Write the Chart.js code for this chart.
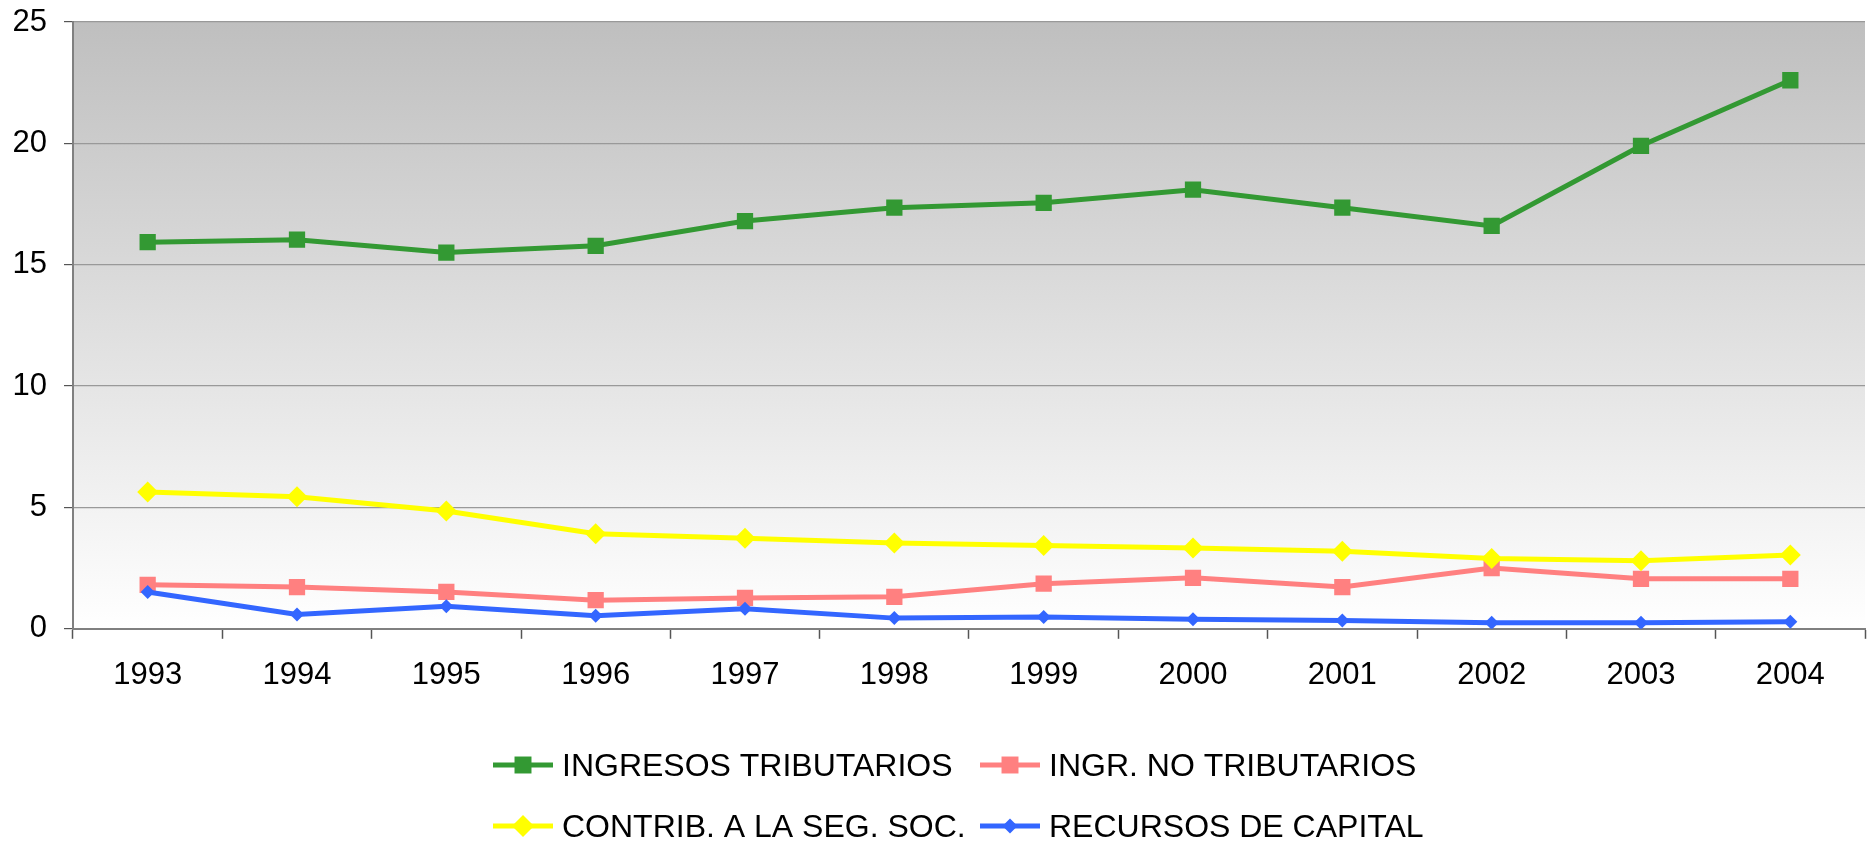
<!DOCTYPE html>
<html>
<head>
<meta charset="utf-8">
<script src="https://cdn.jsdelivr.net/npm/chart.js@4"></script>
<style>
  body { margin: 0; background: #fff; }
  #wrap { width: 1869px; height: 845px; }
</style>
</head>
<body>
<div id="wrap"><canvas id="chart" width="1869" height="845"></canvas></div>
<script>
// data
const years = ["1993", "1994", "1995", "1996", "1997", "1998", "1999", "2000", "2001", "2002", "2003", "2004"];
const ingresosTributarios = [15.93, 16.03, 15.5, 15.78, 16.8, 17.35, 17.55, 18.09, 17.35, 16.6, 19.9, 22.6];
const ingrNoTributarios = [1.81, 1.72, 1.52, 1.18, 1.27, 1.32, 1.86, 2.1, 1.72, 2.5, 2.06, 2.06];
const contribSegSoc = [5.64, 5.44, 4.85, 3.92, 3.73, 3.53, 3.43, 3.33, 3.19, 2.9, 2.8, 3.04];
const recursosCapital = [1.52, 0.59, 0.93, 0.54, 0.83, 0.44, 0.49, 0.39, 0.34, 0.25, 0.25, 0.29];
const yTicks = [0, 5, 10, 15, 20, 25];

const FONT = "'Liberation Sans', Arial, sans-serif";

// gray-to-white fill behind the plot
const plotBackground = {
    id: "plotBackground",
    beforeDraw(chart) {
        let { ctx, chartArea: a } = chart;
        let g = ctx.createLinearGradient(0, a.top, 0, a.bottom);
        g.addColorStop(0, "#bfbfbf");
        g.addColorStop(1, "#ffffff");
        ctx.save();
        ctx.fillStyle = g;
        ctx.fillRect(a.left, a.top, a.right - a.left, a.bottom - a.top);
        ctx.restore();
    }
};

// two-column legend under the chart
const gridLegend = {
    id: "gridLegend",
    afterDraw(chart) {
        let ctx = chart.ctx;
        let cols = [493, 980];
        let rows = [765, 826];
        ctx.save();
        ctx.font = "32px " + FONT;
        ctx.textBaseline = "middle";
        chart.data.datasets.forEach((ds, i) => {
            let x = cols[i % 2], y = rows[Math.floor(i / 2)];
            ctx.strokeStyle = ds.borderColor;
            ctx.lineWidth = 5;
            ctx.beginPath();
            ctx.moveTo(x, y);
            ctx.lineTo(x + 60, y);
            ctx.stroke();
            ctx.fillStyle = ds.pointBackgroundColor;
            ctx.strokeStyle = ds.pointBackgroundColor;
            Chart.helpers.drawPoint(ctx, {
                pointStyle: ds.pointStyle,
                radius: ds.legendRadius,
                rotation: 0,
                borderWidth: 0
            }, x + 30, y);
            ctx.fillStyle = "#000";
            ctx.fillText(ds.label, x + 69, y + 2);
        });
        ctx.restore();
    }
};

function series(label, values, color, style, radius, legendRadius, order) {
    return {
        label: label,
        data: values,
        borderColor: color,
        backgroundColor: color,
        pointBackgroundColor: color,
        pointBorderColor: color,
        pointBorderWidth: 0,
        pointStyle: style,
        pointRadius: radius,
        legendRadius: legendRadius,
        borderWidth: 5,
        tension: 0,
        order: order
    };
}

let ctx = document.getElementById("chart").getContext("2d");
new Chart(ctx, {
    type: "line",
    data: {
        labels: years,
        datasets: [
            series("INGRESOS TRIBUTARIOS", ingresosTributarios, "#339933", "rect", 11.5, 12, 4),
            series("INGR. NO TRIBUTARIOS", ingrNoTributarios, "#ff8080", "rect", 11.5, 12, 3),
            series("CONTRIB. A LA SEG. SOC.", contribSegSoc, "#ffff00", "rectRot", 10.5, 11, 2),
            series("RECURSOS DE CAPITAL", recursosCapital, "#3366ff", "rectRot", 7, 7.5, 1)
        ]
    },
    options: {
        responsive: false,
        animation: false,
        layout: { autoPadding: false, padding: { top: 22, right: 4, left: 0, bottom: 133 } },
        plugins: {
            legend: { display: false },
            tooltip: { enabled: false }
        },
        scales: {
            x: {
                offset: true,
                afterFit(axis) {
                    axis.paddingLeft = 0;
                    axis.paddingRight = 0;
                },
                grid: {
                    offset: true,
                    drawOnChartArea: false,
                    tickLength: 10,
                    tickColor: "#555",
                    tickWidth: 1.5
                },
                border: { color: "#808080", width: 2 },
                ticks: {
                    color: "#000",
                    padding: 18,
                    maxRotation: 0,
                    font: { family: FONT, size: 31 }
                }
            },
            y: {
                min: 0,
                max: 25,
                afterBuildTicks(axis) {
                    axis.ticks = yTicks.map(v => ({ value: v }));
                },
                afterFit(axis) {
                    axis.width = 73;
                    axis.paddingTop = 0;
                    axis.paddingBottom = 0;
                },
                grid: {
                    color: "#999",
                    lineWidth: 1.2,
                    tickLength: 9,
                    tickColor: "#555"
                },
                border: { color: "#808080", width: 2 },
                ticks: {
                    color: "#000",
                    padding: 17,
                    font: { family: FONT, size: 31, lineHeight: 1 }
                }
            }
        }
    },
    plugins: [plotBackground, gridLegend]
});
</script>
</body>
</html>
